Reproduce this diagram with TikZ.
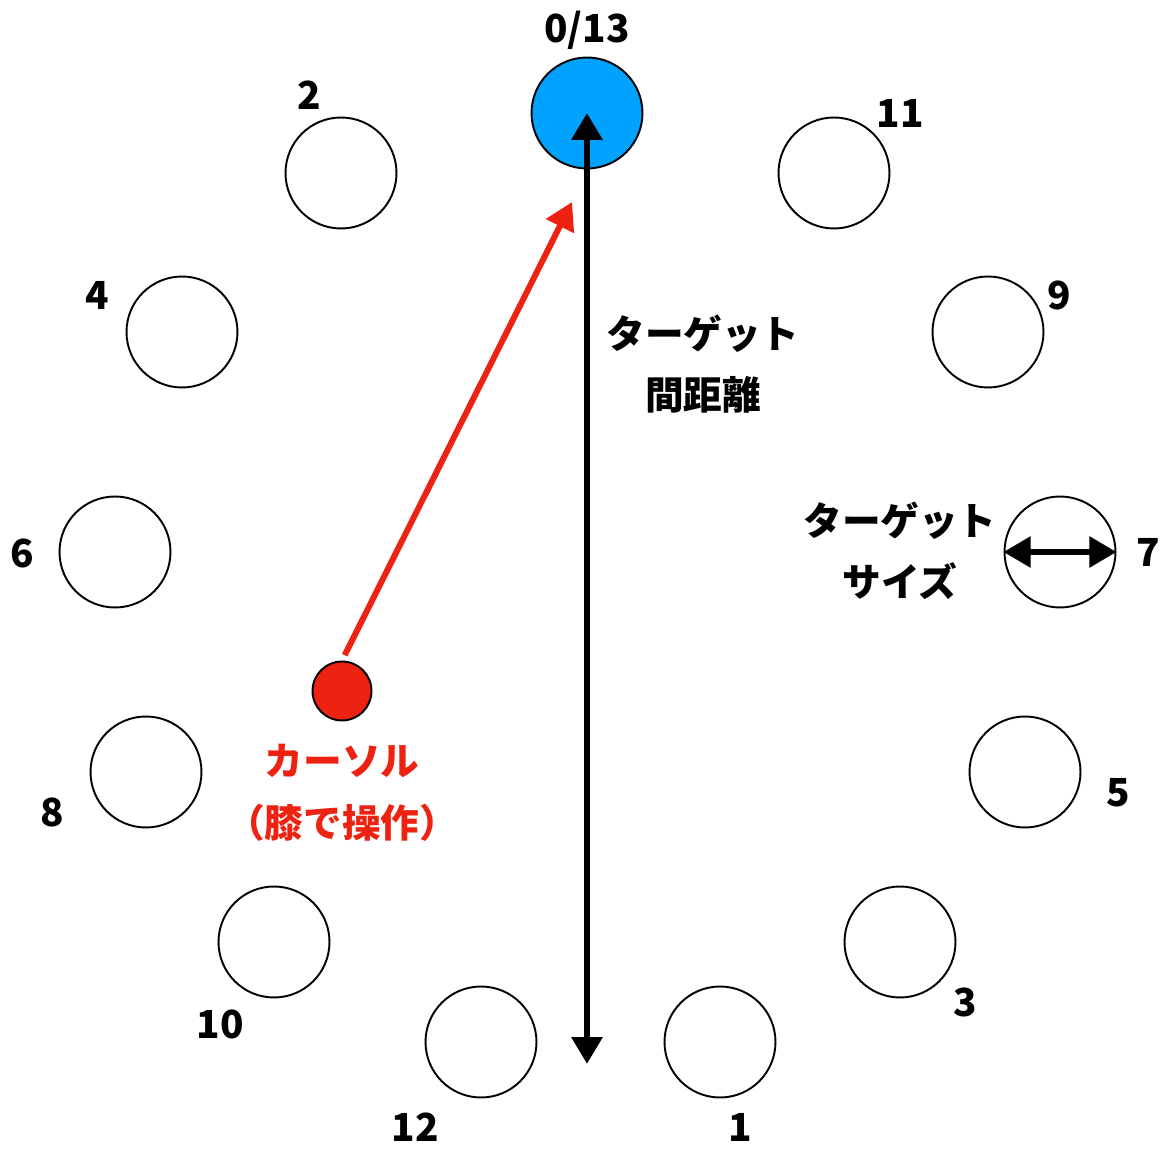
\documentclass[tikz,border=0pt]{standalone}
\usepackage{fontspec}
\setmainfont{Noto Sans CJK JP}
\usetikzlibrary{arrows.meta}
\definecolor{tgtblue}{RGB}{0,162,255}
\definecolor{cursred}{RGB}{238,34,17}
\begin{document}
\begin{tikzpicture}[x=0.02cm, y=-0.02cm,
  every node/.style={font=\fontsize{22}{35}\selectfont\bfseries},
  target/.style={circle, draw, line width=1.1pt, minimum size=2.22cm, inner sep=0pt},
  num/.style={inner sep=0pt},
  dist/.style={line width=3.6pt, {Triangle[width=0.6cm,length=0.54cm]}-{Triangle[width=0.6cm,length=0.54cm]}}]
\useasboundingbox (0,0) rectangle (1167,1151);
% targets
\node[target, fill=tgtblue] (t0) at (587,113) {};
\node[target] (t1) at (720,1042) {};
\node[target] (t2) at (341,173) {};
\node[target] (t3) at (900,942) {};
\node[target] (t4) at (182,332) {};
\node[target] (t5) at (1025,772) {};
\node[target] (t6) at (115,552) {};
\node[target] (t7) at (1060,552) {};
\node[target] (t8) at (146,772) {};
\node[target] (t9) at (988,332) {};
\node[target] (t10) at (274,942) {};
\node[target] (t11) at (834,173) {};
\node[target] (t12) at (481,1042) {};
% numbers
\node[num] (n0) at (587,30) {0/13};
\node[num] (n1) at (740,1127) {1};
\node[num] (n2) at (309,95) {2};
\node[num] (n3) at (965,1002) {3};
\node[num] (n4) at (97,295) {4};
\node[num] (n5) at (1118,793) {5};
\node[num] (n6) at (22,553) {6};
\node[num] (n7) at (1148,552) {7};
\node[num] (n8) at (52,812) {8};
\node[num] (n9) at (1059,295) {9};
\node[num] (n10) at (220,1024) {10};
\node[num] (n11) at (900,113) {11};
\node[num] (n12) at (415,1127) {12};
% cursor
\node[circle, draw, line width=1.1pt, fill=cursred, minimum size=1.18cm, inner sep=0pt] (cur) at (342,691) {};
\node[text=cursred, align=center] (curlbl) at (342,793) {カーソル\\（膝で操作）};
\coordinate (aim) at (572,202);
\draw[cursred, line width=3.4pt, -{Triangle[width=0.6cm,length=0.54cm]}, shorten <=0.12cm] (cur.north) -- (aim);
% distance
\coordinate (dbot) at (587,1064);
\draw[dist] (dbot) -- (t0.center);
\node[align=center] (dlbl) at (703,364) {ターゲット\\間距離};
% size
\draw[dist, line width=3.2pt] (t7.west) -- (t7.east);
\node[align=center] (slbl) at (900,551) {ターゲット\\サイズ};
\end{tikzpicture}
\end{document}
